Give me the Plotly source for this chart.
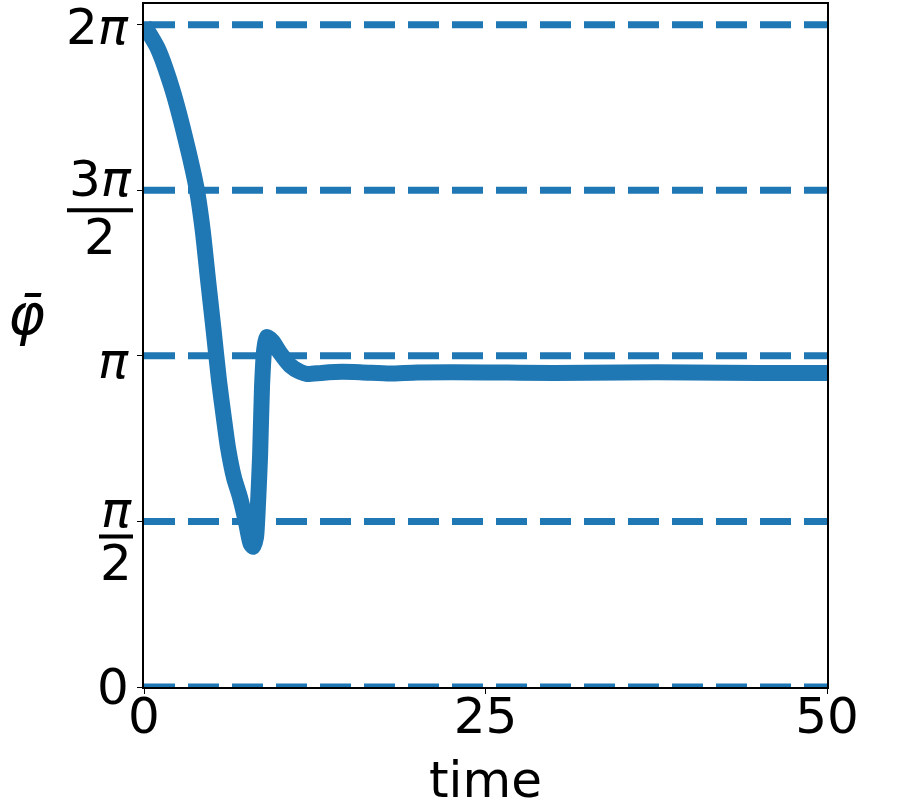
import numpy as np
import plotly.graph_objects as go

# mean phase
time = [0, 1.0, 2.0, 3.0, 3.88, 4.3, 4.69, 5.1, 5.49, 5.85, 6.15, 6.6, 7.03, 7.47,
        7.8, 8.0, 8.2, 8.35, 8.5, 8.64, 8.8, 9.0, 9.4, 9.96, 10.7, 11.42, 11.93, 13.0,
        14.5, 16.0, 18.0, 20.0, 25.0, 30.0, 35.0, 40.0, 45.0, 50.0]
phi_bar = [6.28, 6.06, 5.70, 5.22, 4.71, 4.33, 3.86, 3.38, 2.91, 2.55, 2.27, 1.98,
           1.80, 1.56, 1.36, 1.33, 1.42, 1.75, 2.20, 2.85, 3.20, 3.32, 3.28, 3.17,
           3.05, 2.99, 2.97, 2.98, 2.99, 2.985, 2.975, 2.985, 2.985, 2.98, 2.985,
           2.985, 2.98, 2.98]

levels = [0, np.pi / 2, np.pi, 3 * np.pi / 2, 2 * np.pi]
# (numerator, denominator) for each level; denominator None = plain label
level_labels = [("0", None), ("<i>π</i>", "2"), ("<i>π</i>", None),
                ("3<i>π</i>", "2"), ("2<i>π</i>", None)]

blue = "#1f77b4"
fig = go.Figure()

for lv in levels:
    fig.add_trace(go.Scatter(x=[0, 50], y=[lv, lv], mode="lines",
                             line=dict(color=blue, width=7, dash="31px,13px"),
                             showlegend=False, hoverinfo="skip"))

fig.add_trace(go.Scatter(x=time, y=phi_bar, mode="lines", line_shape="spline",
                         line=dict(color=blue, width=16, smoothing=0.6),
                         showlegend=False))

axis_common = dict(showgrid=False, zeroline=False, showline=True, linecolor="black",
                   linewidth=1.5, mirror=True, ticks="outside", ticklen=5,
                   tickcolor="black", tickfont=dict(size=50, color="black"),
                   automargin=False)

fig.update_xaxes(range=[0, 50], tickvals=[0, 25, 50], ticktext=["0", "25", "50"],
                 ticklabelstandoff=-21, **axis_common)
fig.update_yaxes(range=[0, 6.48], tickvals=levels, showticklabels=False, **axis_common)

# y tick labels, drawn as annotations so the fractions can be stacked
tick_font = dict(size=50, color="black")
for lv, (num, den) in zip(levels, level_labels):
    if den is None:
        shift = {"<i>π</i>": -5, "2<i>π</i>": -2}.get(num, 0)
        fig.add_annotation(text=num, xref="paper", yref="y", x=0, y=lv, xanchor="right",
                           yanchor="middle", xshift=-13, yshift=shift,
                           showarrow=False, font=tick_font)
    else:
        half = 33 if num.startswith("3") else 17
        bar_y = -20 if num.startswith("3") else -15
        fig.add_annotation(text=num, xref="paper", yref="y", x=0, y=lv, xanchor="center",
                           yanchor="middle", xshift=-11 - half, yshift=11,
                           showarrow=False, font=tick_font)
        fig.add_annotation(text=den, xref="paper", yref="y", x=0, y=lv, xanchor="center",
                           yanchor="middle", xshift=-11 - half, yshift=bar_y - 27,
                           showarrow=False, font=tick_font)
        fig.add_shape(type="line", xref="paper", yref="y", xsizemode="pixel",
                      ysizemode="pixel", xanchor=0, yanchor=lv,
                      x0=-11 - 2 * half, x1=-11, y0=bar_y, y1=bar_y,
                      line=dict(color="black", width=4))

fig.add_annotation(text="time", xref="paper", yref="paper", x=0.5, y=-0.136,
                   yanchor="middle", showarrow=False, font=dict(size=50, color="black"))
fig.add_annotation(text="<i>φ̄</i>", xref="paper", yref="paper", x=-0.173, y=0.545,
                   xshift=-20, yanchor="middle", showarrow=False,
                   font=dict(size=56, color="black"))

fig.update_layout(width=902, height=811, plot_bgcolor="white", paper_bgcolor="white",
                  font=dict(family="DejaVu Sans"),
                  margin=dict(l=144, r=75, t=4, b=124))

fig.write_html("out.html", config={"displayModeBar": False},
               post_script="document.body.style.margin='0';")
